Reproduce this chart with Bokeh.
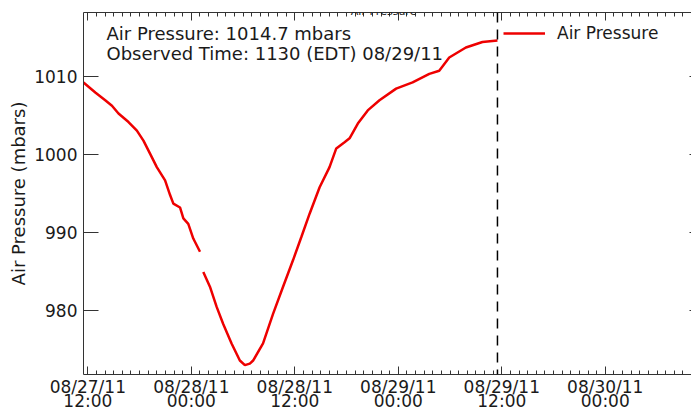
import math
from bokeh.plotting import figure
from bokeh.models import (Range1d, LinearAxis, FixedTicker, Span, Label, Legend, LegendItem)
from bokeh.embed import file_html
from bokeh.resources import INLINE

# ---- data (hours after 08/27/11 12:00 EDT, air pressure in mbar) ----
hours = [-0.5, 0.87, 2.02, 2.80, 3.56, 4.72, 5.69, 6.45, 7.23, 8.00, 8.96, 9.54,
         9.92, 10.69, 11.08, 11.65, 12.23, 13.01,
         float("nan"),
         13.39, 14.16, 14.94, 15.70, 16.67, 17.63, 18.21, 18.79, 19.17, 20.32,
         21.48, 22.64, 23.79, 24.76, 25.72, 26.88, 28.03, 28.81, 29.77, 30.35,
         31.31, 32.46, 33.82, 35.75, 37.66, 39.60, 40.75, 41.91, 43.84, 45.76, 47.5]
pressure = [1009.3, 1008.0, 1007.0, 1006.3, 1005.3, 1004.2, 1003.1, 1001.8, 1000.1, 998.4, 996.7, 994.8,
            993.7, 993.2, 991.8, 991.1, 989.2, 987.5,
            float("nan"),
            984.9, 983.0, 980.4, 978.2, 975.7, 973.5, 972.9, 973.1, 973.5, 975.7,
            979.5, 983.0, 986.4, 989.4, 992.4, 995.8, 998.4, 1000.8, 1001.6, 1002.1,
            1004.0, 1005.7, 1007.0, 1008.5, 1009.3, 1010.4, 1010.8, 1012.5, 1013.8, 1014.5, 1014.7]

x_major_ticks = [0, 12, 24, 36, 48, 60]
x_tick_labels = ["08/27/11\n12:00", "08/28/11\n00:00", "08/28/11\n12:00",
                 "08/29/11\n00:00", "08/29/11\n12:00", "08/30/11\n00:00"]
x_minor_ticks = list(range(0, 71))
y_major_ticks = [980, 990, 1000, 1010]

observed_hour = 47.5
current_value_text = "Air Pressure: 1014.7 mbars"
observed_text = "Observed Time: 1130 (EDT) 08/29/11"
title_text = "Air Pressure"
y_label = "Air Pressure (mbars)"
series_name = "Air Pressure"

FONT = "DejaVu Sans"
TXT = "#1a1a1a"
AX = "#333333"

p = figure(width=691, height=417, output_backend="svg", toolbar_location=None,
           x_range=Range1d(-0.5, 70.0), y_range=Range1d(971.7, 1018.3),
           min_border_left=83, min_border_right=0, min_border_top=16, min_border_bottom=30,
           x_axis_location=None, y_axis_location=None)
p.margin = (-4, 0, 0, 0)
p.outline_line_color = None
p.grid.visible = False
p.background_fill_color = "white"
p.border_fill_color = "white"

xt = FixedTicker(ticks=x_major_ticks, minor_ticks=x_minor_ticks)
yt = FixedTicker(ticks=y_major_ticks, minor_ticks=[])

# bottom axis
xb = LinearAxis(ticker=xt, major_label_overrides={t: l for t, l in zip(x_major_ticks, x_tick_labels)})
xb.major_tick_in = 8
xb.major_tick_out = 0
xb.minor_tick_in = 4
xb.minor_tick_out = 0
xb.major_label_standoff = 2
xb.major_label_text_font = FONT
xb.major_label_text_font_size = "17px"
xb.major_label_text_color = TXT
xb.major_label_text_line_height = 0.72
xb.axis_line_color = AX
xb.major_tick_line_color = AX
xb.minor_tick_line_color = AX
p.add_layout(xb, "below")

# top axis (ticks only)
xtop = LinearAxis(ticker=xt)
xtop.major_tick_in = 8
xtop.major_tick_out = 0
xtop.minor_tick_in = 4
xtop.minor_tick_out = 0
xtop.major_label_text_font_size = "1px"
xtop.major_label_text_alpha = 0
xtop.major_label_standoff = 0
xtop.axis_line_color = AX
xtop.major_tick_line_color = AX
xtop.minor_tick_line_color = AX
p.add_layout(xtop, "above")

# left axis
yl = LinearAxis(ticker=yt, axis_label=y_label)
yl.major_tick_in = 15
yl.major_tick_out = 0
yl.minor_tick_line_color = None
yl.major_label_standoff = 6
yl.major_label_text_font = FONT
yl.major_label_text_font_size = "17px"
yl.major_label_text_color = TXT
yl.axis_label_text_font = FONT
yl.axis_label_text_font_size = "18px"
yl.axis_label_text_font_style = "normal"
yl.axis_label_text_color = TXT
yl.axis_label_standoff = 2
yl.axis_line_color = AX
yl.major_tick_line_color = AX
p.add_layout(yl, "left")

# right axis (only the inner ends of its ticks fall inside the view)
yr = LinearAxis(ticker=yt)
yr.major_tick_in = 2
yr.major_tick_out = 0
yr.minor_tick_line_color = None
yr.major_label_text_font_size = "1px"
yr.major_label_text_alpha = 0
yr.major_label_standoff = 0
yr.axis_line_color = None
yr.major_tick_line_color = AX
p.add_layout(yr, "right")

r = p.line(hours, pressure, line_color="#ee0000", line_width=2.5)

p.add_layout(Span(location=observed_hour, dimension="height", line_color="black",
                  line_width=1.5, line_dash="10 7"))

legend = Legend(items=[LegendItem(label=series_name, renderers=[r])],
                location=(420, 331), border_line_color=None, background_fill_alpha=0,
                glyph_width=42, glyph_height=20, label_standoff=12, padding=0, margin=0,
                label_text_font=FONT, label_text_font_size="17px", label_text_color=TXT)
p.add_layout(legend, "center")

p.add_layout(Label(x=2.17, y=1015.6, text=current_value_text, text_font=FONT,
                   text_font_size="18px", text_color=TXT, text_baseline="middle"))
p.add_layout(Label(x=2.17, y=1013.0, text=observed_text, text_font=FONT,
                   text_font_size="18px", text_color=TXT, text_baseline="middle"))
p.add_layout(Label(x=34.3, y=1018.49, text=title_text, text_font=FONT,
                   text_font_size="11px", text_color=TXT, text_align="center",
                   text_baseline="alphabetic"))

open("out.html", "w").write(file_html(p, INLINE))
